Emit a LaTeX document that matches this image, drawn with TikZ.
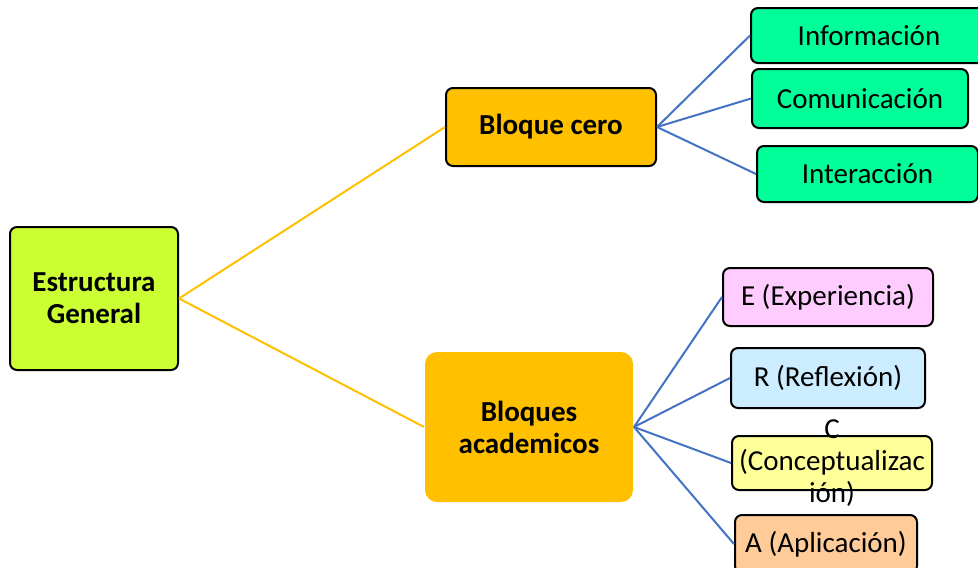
\documentclass[tikz,border=0pt]{standalone}
\usepackage{fontspec}
\setmainfont{Carlito}
\definecolor{limec}{HTML}{CCFF33}
\definecolor{orangec}{HTML}{FFC000}
\definecolor{greenc}{HTML}{00FF99}
\definecolor{pinkc}{HTML}{FFCCFF}
\definecolor{bluec}{HTML}{CCECFF}
\definecolor{yellowc}{HTML}{FFFF99}
\definecolor{peachc}{HTML}{FFCC99}
\definecolor{linkblue}{HTML}{4472C4}
\begin{document}
\begin{tikzpicture}[x=1pt,y=-1pt,
  box/.style={draw=black,line width=2pt,rounded corners=7pt,inner sep=0pt,align=center,
    font=\fontsize{29}{32}\selectfont},
  mainbox/.style={box,font=\fontsize{29}{32}\selectfont\bfseries},
  ylink/.style={draw=orangec,line width=2pt},
  blink/.style={draw=linkblue,line width=2pt}]
\clip (0,0) rectangle (978,568);
\useasboundingbox (0,0) rectangle (978,568);
\fill[white] (0,0) rectangle (978,568);
\node[mainbox,fill=limec,minimum width=168pt,minimum height=143pt] (eg) at (94,298.5) {Estructura\\General};
\node[mainbox,fill=orangec,minimum width=210pt,minimum height=78pt] (bc) at (551,127) {Bloque cero};
\node[mainbox,draw=none,fill=orangec,rounded corners=12pt,minimum width=208pt,minimum height=150pt] (ba) at (529,427) {Bloques\\academicos};
\node[box,fill=greenc,minimum width=236pt,minimum height=55pt] (inf) at (869,35.5) {Información};
\node[box,fill=greenc,minimum width=216pt,minimum height=59pt] (com) at (860,98.5) {Comunicación};
\node[box,fill=greenc,minimum width=221pt,minimum height=56pt] (int) at (867.5,174) {Interacción};
\node[box,fill=pinkc,minimum width=210pt,minimum height=58pt] (e) at (828,297) {E (Experiencia)};
\node[box,fill=bluec,minimum width=194pt,minimum height=60pt] (r) at (828,378) {R (Reflexión)};
\node[box,fill=yellowc,minimum width=200pt,minimum height=54pt] (c) at (832,463) {};
\node[font=\fontsize{29}{32}\selectfont,align=center,inner sep=0pt] (ct) at (c.center) {C\\(Conceptualizac\\ión)};
\node[box,fill=peachc,minimum width=182pt,minimum height=58pt] (a) at (826,544) {A (Aplicación)};
\draw[ylink] (eg.east) -- (bc.west);
\draw[ylink] (eg.east) -- (ba.west);
\draw[blink] (bc.east) -- (inf.west);
\draw[blink] (bc.east) -- (com.west);
\draw[blink] (bc.east) -- (int.west);
\draw[blink] (ba.east) -- (e.west);
\draw[blink] (ba.east) -- (r.west);
\draw[blink] (ba.east) -- (c.west);
\draw[blink] (ba.east) -- (a.west);
\end{tikzpicture}
\end{document}
